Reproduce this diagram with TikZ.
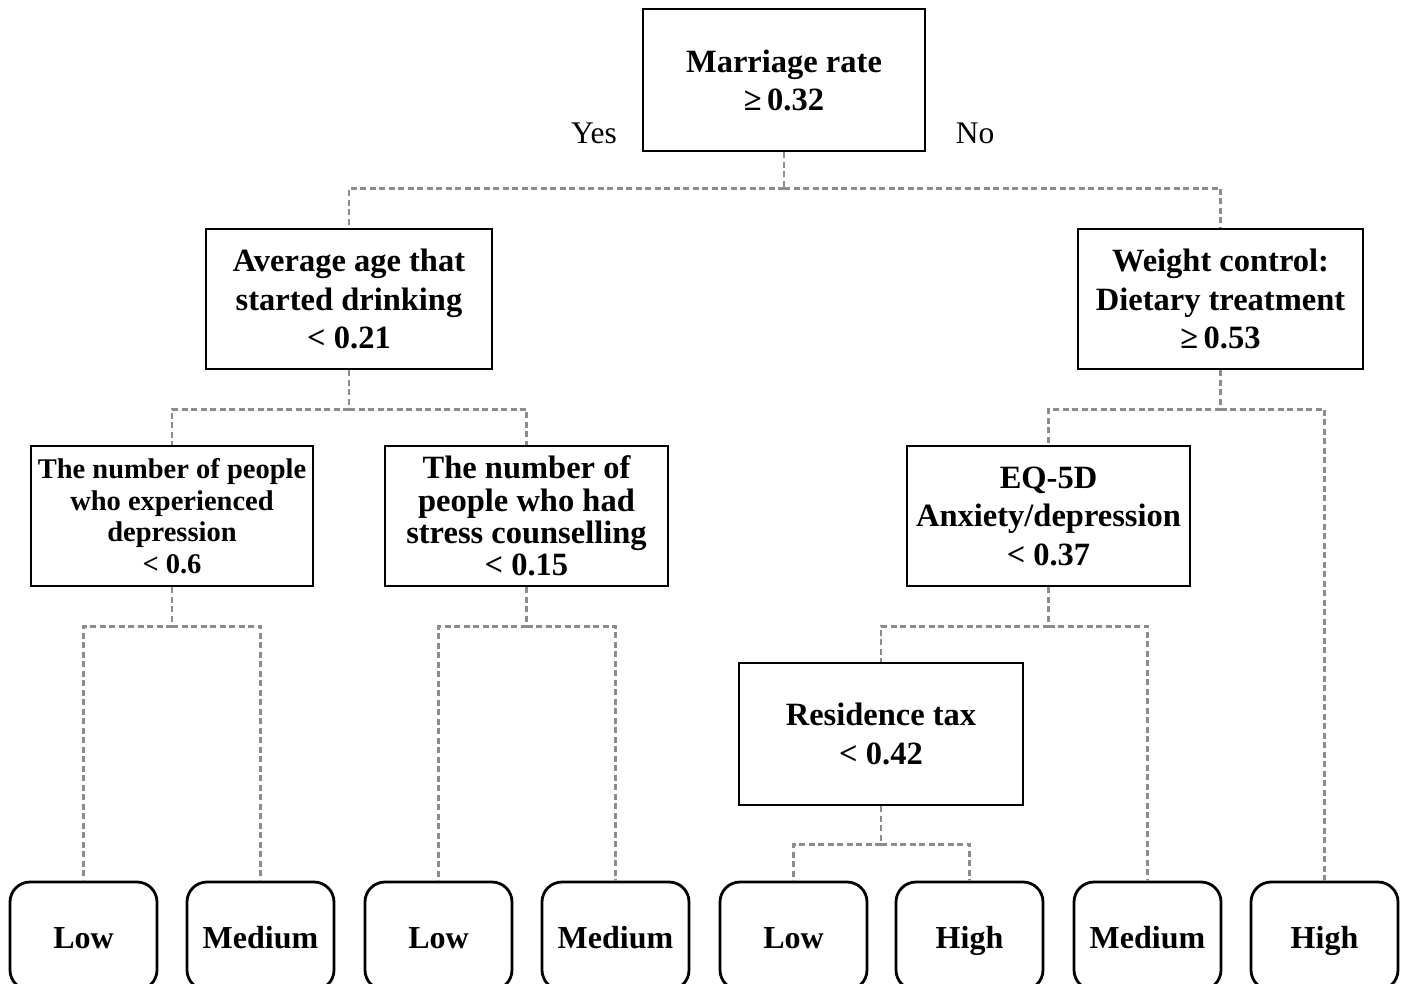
\documentclass[tikz,border=0pt]{standalone}
\usepackage{fontspec}
\setmainfont{Liberation Serif}
\begin{document}
\begin{tikzpicture}[x=1pt,y=-1pt,
  box/.style={draw=black,line width=2.8pt,inner sep=0pt,align=center,font=\bfseries\fontsize{32.5}{38.5}\selectfont},
  leaf/.style={draw=black,line width=2.8pt,rounded corners=20pt,inner sep=0pt,minimum width=147pt,minimum height=108pt,text height=26.5pt,text depth=2.5pt,font=\bfseries\fontsize{32}{38}\selectfont},
  conn/.style={draw=black!45,line width=2.2pt,dash pattern=on 6pt off 3.5pt}]
\clip (0,0) rectangle (1403,983);
\useasboundingbox (0,0) rectangle (1403,983);
% decision nodes
\node[box,minimum width=282pt,minimum height=142pt,text depth=-2pt] (top) at (784,80) {Marriage rate\\≥\,0.32};
\node[box,minimum width=286pt,minimum height=140pt] (A) at (349,299) {Average age that\\started drinking\\< 0.21};
\node[box,minimum width=285pt,minimum height=140pt] (B) at (1220.5,299) {Weight control:\\Dietary treatment\\≥\,0.53};
\node[box,minimum width=282pt,minimum height=140pt,font=\bfseries\fontsize{28.5}{31.5}\selectfont] (C) at (172,516) {The number of people\\who experienced\\depression\\< 0.6};
\node[box,minimum width=283pt,minimum height=140pt,font=\bfseries\fontsize{32.5}{32.3}\selectfont] (D) at (526.5,516) {The number of\\people who had\\stress counselling\\< 0.15};
\node[box,minimum width=283pt,minimum height=140pt] (E) at (1048.5,516) {EQ-5D\\Anxiety/depression\\< 0.37};
\node[box,minimum width=284pt,minimum height=142pt] (F) at (881,734) {Residence tax\\< 0.42};
% labels
\node[font=\fontsize{31.5}{34}\selectfont] (yes) at (594,133) {Yes};
\node[font=\fontsize{31.5}{34}\selectfont] (no) at (975,133) {No};
% leaves
\node[leaf] (L1) at (83.5,936) {Low};
\node[leaf] (L2) at (260.5,936) {Medium};
\node[leaf] (L3) at (438.5,936) {Low};
\node[leaf] (L4) at (615.5,936) {Medium};
\node[leaf] (L5) at (793.5,936) {Low};
\node[leaf] (L6) at (969.5,936) {High};
\node[leaf] (L7) at (1147.5,936) {Medium};
\node[leaf] (L8) at (1324.5,936) {High};
% connectors
\draw[conn] (top.south) -- ++(0,36) coordinate (t1);
\draw[conn] (t1) -| (A.north);
\draw[conn] (t1) -| (B.north);
\draw[conn] (A.south) -- ++(0,39) coordinate (a1);
\draw[conn] (a1) -| (C.north);
\draw[conn] (a1) -| (D.north);
\draw[conn] (B.south) -- ++(0,39) coordinate (b1);
\draw[conn] (b1) -| (E.north);
\draw[conn] (b1) -| (L8.north);
\draw[conn] (C.south) -- ++(0,39) coordinate (c1);
\draw[conn] (c1) -| (L1.north);
\draw[conn] (c1) -| (L2.north);
\draw[conn] (D.south) -- ++(0,39) coordinate (d1);
\draw[conn] (d1) -| (L3.north);
\draw[conn] (d1) -| (L4.north);
\draw[conn] (E.south) -- ++(0,39) coordinate (e1);
\draw[conn] (e1) -| (F.north);
\draw[conn] (e1) -| (L7.north);
\draw[conn] (F.south) -- ++(0,38) coordinate (f1);
\draw[conn] (f1) -| (L5.north);
\draw[conn] (f1) -| (L6.north);
\end{tikzpicture}
\end{document}
